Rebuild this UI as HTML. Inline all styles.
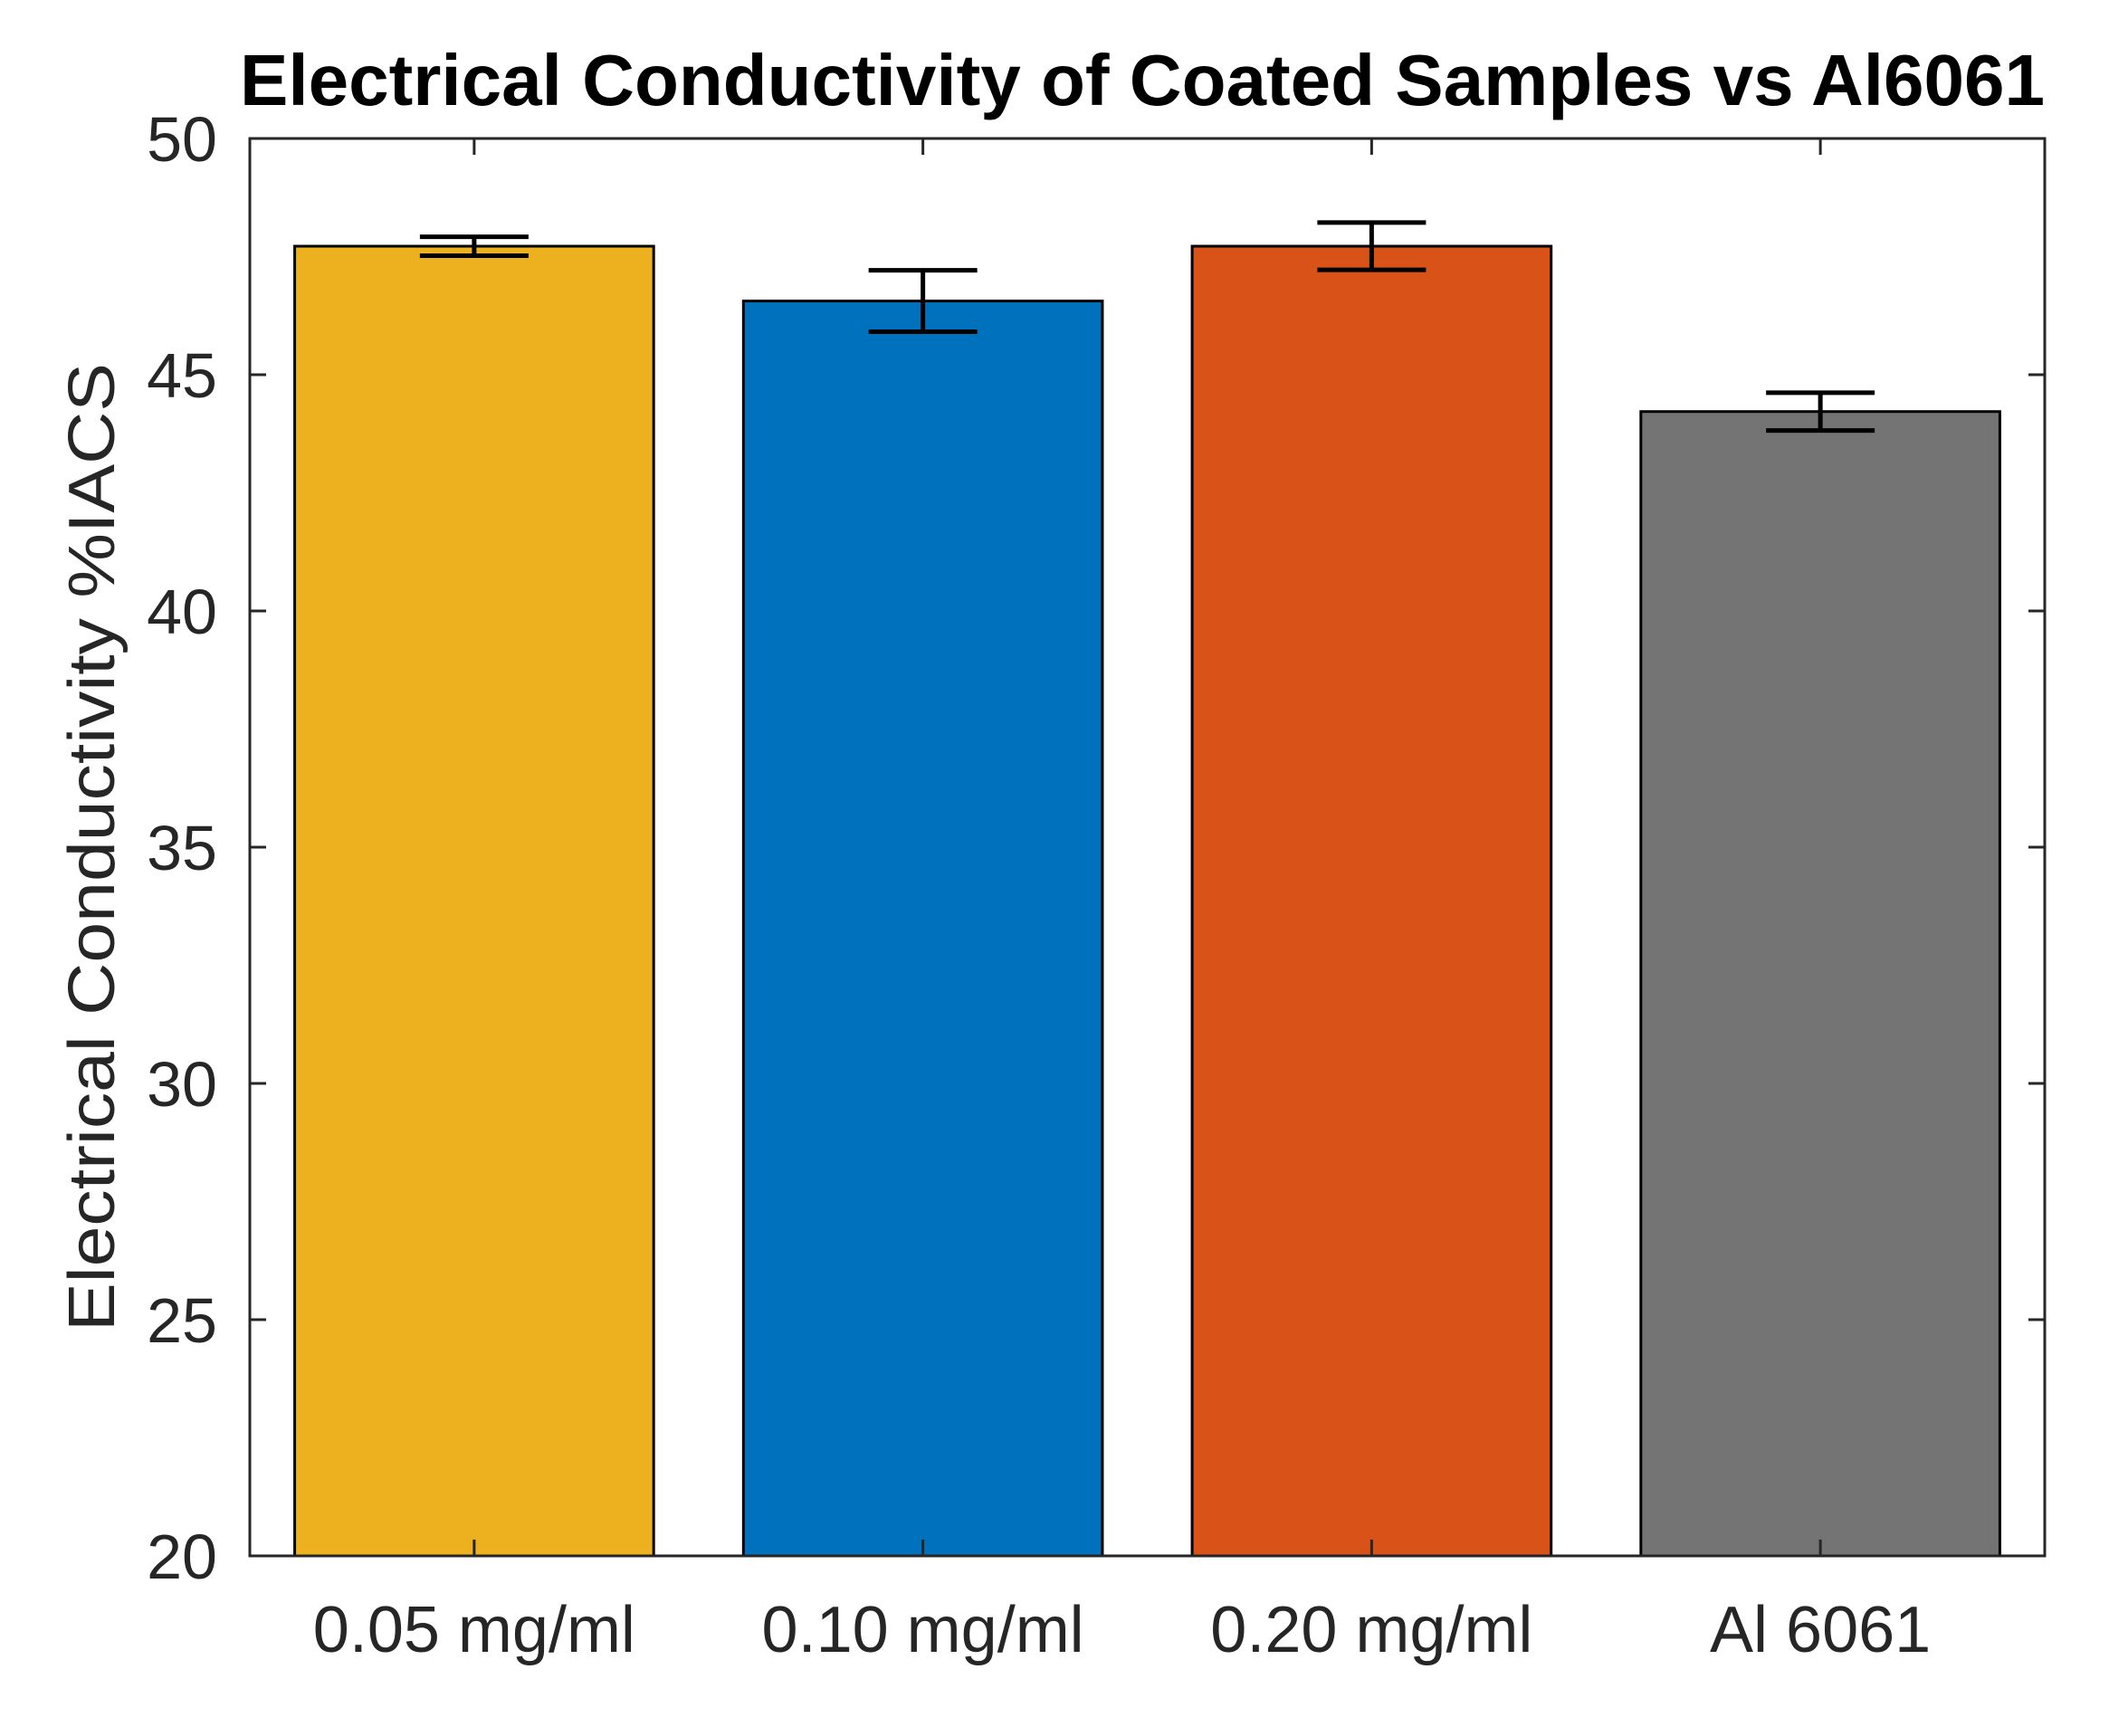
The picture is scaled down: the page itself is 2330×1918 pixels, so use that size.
<!DOCTYPE html>
<html><head><meta charset="utf-8"><style>
html,body{margin:0;padding:0;background:#fff;}
svg{display:block;}
text{font-family:"Liberation Sans",Arial,sans-serif;fill:#262626;}
</style></head><body>
<svg id="chart" width="2330" height="1918" viewBox="0 0 2330 1918" xmlns="http://www.w3.org/2000/svg">
<rect width="2330" height="1918" fill="#fff"/>
<g id="plot"></g>
</svg>
<script>
const categories = ["0.05 mg/ml", "0.10 mg/ml", "0.20 mg/ml", "Al 6061"];
const values = [47.72, 46.56, 47.72, 44.22];
const errors = [0.2, 0.65, 0.5, 0.4];
const colors = ["#EDB120", "#0072BD", "#D95319", "#747474"];
const yTicks = [20, 25, 30, 35, 40, 45, 50];

const L = 276, R = 2259, T = 153, B = 1719;
const yMin = 20, yMax = 50;
const NS = "http://www.w3.org/2000/svg";
const g = document.getElementById('plot');
function y(v){ return B - (v - yMin) / (yMax - yMin) * (B - T); }
function x(i){ return L + (i + 0.5) * (R - L) / categories.length; }
const bw = 0.8 * (R - L) / categories.length;
function el(tag, attrs){ const e = document.createElementNS(NS, tag); for (const k in attrs) e.setAttribute(k, attrs[k]); g.appendChild(e); return e; }

categories.forEach((c, i) => {
  const b = el('rect', {x: x(i) - bw/2, y: y(values[i]), width: bw, height: B - y(values[i]), fill: colors[i], stroke: '#000', 'stroke-width': 3});
  
  
  const eg = document.createElementNS(NS, 'g');
  
  
  g.appendChild(eg);
  const hi = y(values[i] + errors[i]), lo = y(values[i] - errors[i]);
  [[x(i), hi, x(i), lo], [x(i)-60, hi, x(i)+60, hi], [x(i)-60, lo, x(i)+60, lo]].forEach(p => {
    const l = document.createElementNS(NS, 'line');
    l.setAttribute('x1', p[0]); l.setAttribute('y1', p[1]); l.setAttribute('x2', p[2]); l.setAttribute('y2', p[3]);
    l.setAttribute('stroke', '#000'); l.setAttribute('stroke-width', 5);
    eg.appendChild(l);
  });
  const t = el('text', {x: x(i), y: 1825, 'font-size': 72, 'text-anchor': 'middle'});
  t.textContent = c;
  
  
  el('line', {x1: x(i), y1: B, x2: x(i), y2: B - 18, stroke: '#262626', 'stroke-width': 3});
  el('line', {x1: x(i), y1: T, x2: x(i), y2: T + 18, stroke: '#262626', 'stroke-width': 3});
});

yTicks.forEach(v => {
  el('line', {x1: L, y1: y(v), x2: L + 18, y2: y(v), stroke: '#262626', 'stroke-width': 3});
  el('line', {x1: R, y1: y(v), x2: R - 18, y2: y(v), stroke: '#262626', 'stroke-width': 3});
  const t = el('text', {x: 240, y: y(v) + 25, 'font-size': 70, 'text-anchor': 'end'});
  t.textContent = v;
  
  
});

const box = el('rect', {x: L, y: T, width: R - L, height: B - T, fill: 'none', stroke: '#262626', 'stroke-width': 3});



const title = el('text', {x: 1262, y: 116, 'font-size': 80, 'font-weight': 'bold', 'text-anchor': 'middle', textLength: 1994, lengthAdjust: 'spacingAndGlyphs'});
title.style.fill = '#000';
title.textContent = 'Electrical Conductivity of Coated Samples vs Al6061';



const yl = el('text', {x: 0, y: 0, 'font-size': 72, 'text-anchor': 'middle', transform: 'translate(126,936) rotate(-90)', textLength: 1070, lengthAdjust: 'spacingAndGlyphs'});
yl.textContent = 'Electrical Conductivity %IACS';


</script>
</body></html>
